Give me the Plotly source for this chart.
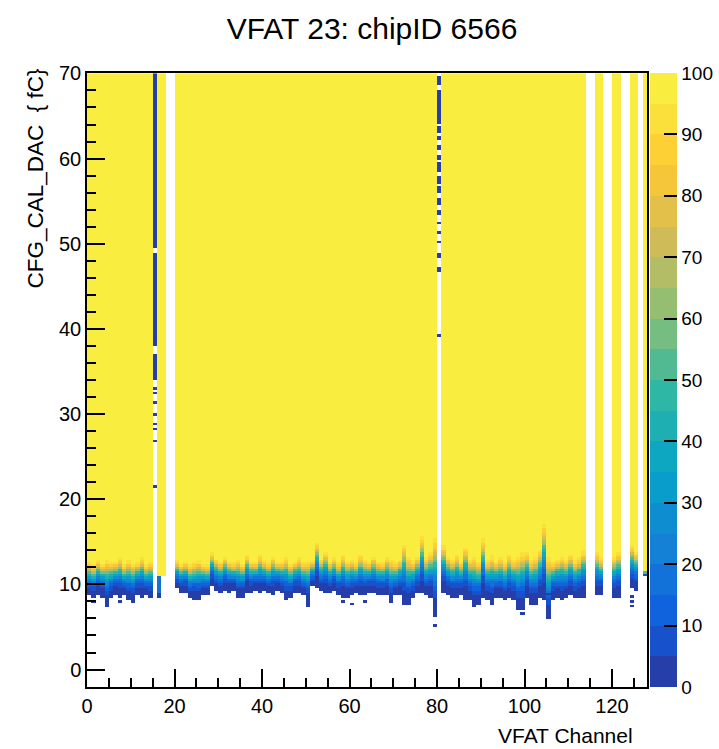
import numpy as np
import plotly.graph_objects as go
from math import erf, sqrt

# ---------------------------------------------------------------
# S-curve scan of VFAT 23 (chipID 6566): hits out of 100 pulses
# per channel versus injected charge CFG_CAL_DAC (fC).
# ---------------------------------------------------------------

n_channels = 128
# calibration-pulse charge bins (256 CAL_DAC steps)
charge_edges = np.linspace(-2.0, 70.0, 257)
charge_centres = 0.5 * (charge_edges[:-1] + charge_edges[1:])

# per channel: lowest charge with any hit, and charge where the curve
# reaches ~90 % efficiency (None marks a channel without a turn-on)
lowest_hit_fc = [
    8.6, 8.4, 8.8, 8.5, 7.4, 8.3, 8.8, 8.5, 8.6, 8.0,
    7.9, 8.7, 8.4, 8.6, 8.4, None, None, None, None, None,
    9.4, 9.0, 9.1, 8.3, 8.2, 8.0, 8.6, 8.7, 9.8, 9.2,
    9.0, 9.3, 9.1, 9.2, 8.4, 8.5, 9.1, 9.0, 9.3, 8.9,
    9.2, 9.0, 8.8, 9.2, 9.0, 8.2, 8.3, 9.0, 8.9, 8.6,
    7.7, 9.7, 9.6, 9.2, 8.9, 9.0, 9.2, 8.7, 8.5, 8.4,
    8.6, 9.0, 8.8, 8.7, 9.1, 8.9, 8.6, 8.6, 8.7, 7.9,
    8.6, 8.8, 7.6, 7.6, 8.3, 8.9, 8.9, 8.6, 8.5, 6.1,
    None, 8.9, 8.8, 8.5, 8.4, 8.6, 8.3, 8.1, 7.3, 7.6,
    8.5, 8.2, 7.6, 8.4, 8.3, 8.0, 8.4, 8.2, 7.0, 6.9,
    8.5, 7.6, 7.6, 8.3, 8.0, 5.9, 8.2, 8.3, 8.1, 8.4,
    8.6, 8.3, 8.5, 8.4, None, None, 8.6, 8.8, None, None,
    8.3, 8.5, None, None, 9.4, 9.2, None, 10.9,
]
full_eff_fc = [
    12.3, 12.0, 12.6, 12.2, 12.5, 12.3, 12.4, 12.8, 12.1, 12.5,
    12.2, 12.4, 12.9, 12.1, 12.3, None, None, None, None, None,
    12.6, 12.2, 12.4, 12.0, 12.3, 12.5, 12.2, 12.0, 13.5, 12.8,
    12.4, 13.0, 12.5, 12.3, 12.6, 12.2, 13.2, 12.5, 12.4, 13.1,
    12.6, 12.3, 13.0, 12.5, 12.4, 12.9, 12.2, 12.5, 12.8, 12.3,
    12.4, 12.6, 14.6, 12.8, 13.5, 12.4, 12.9, 12.3, 13.2, 12.5,
    12.7, 12.3, 13.1, 12.6, 12.4, 13.0, 12.5, 12.4, 12.9, 12.6,
    12.3, 12.7, 14.3, 12.8, 12.5, 13.0, 15.2, 12.9, 13.4, 14.8,
    None, 14.2, 13.0, 12.6, 13.2, 12.5, 14.0, 12.7, 12.9, 12.4,
    14.9, 12.6, 13.0, 12.5, 12.8, 12.4, 13.1, 12.6, 12.9, 13.3,
    13.5, 12.6, 12.9, 13.8, 16.5, 12.8, 12.4, 12.7, 13.0, 12.6,
    13.2, 12.5, 12.8, 13.6, None, None, 13.5, 12.8, None, None,
    13.0, 13.4, None, None, 14.3, 13.6, None, 11.5,
]

# isolated low-occupancy hits below the turn-on (channel, charge fC)
stray_channel = [1, 4, 7, 21, 36, 50, 58, 60, 63, 79, 86, 92, 99, 104, 105, 124, 124, 124]
stray_charge = [8.1, 7.3, 8.0, 9.7, 10.3, 7.4, 8.0, 7.8, 8.1, 5.3, 8.4, 8.2, 6.6, 8.6, 8.9, 8.5, 7.9, 7.4]
stray_counts = 3

# channel 15: low-occupancy hits at high charge (runs of bins and single bins)
ch15_runs_fc = [(49.4, 70.0), (37.8, 48.8), (34.0, 37.0)]
ch15_single_fc = [33.1, 32.4, 31.2, 30.0, 28.8, 28.1, 26.9, 21.4]
# channel 80: same behaviour, broken into short dashes
ch80_runs_fc = [(68.7, 69.7), (64.2, 68.1), (63.0, 63.8), (62.1, 62.6), (61.0, 61.7),
                (59.9, 60.5), (58.5, 59.5), (57.2, 58.0), (56.0, 56.8), (54.5, 55.4),
                (53.3, 53.9), (52.3, 52.7), (51.1, 51.5), (49.9, 50.3), (48.4, 48.9),
                (46.7, 47.2), (39.0, 39.4)]
dead_counts = 2
# channels 16 and 17: full efficiency down to a sharp edge
ch16_step = [(10.8, 70.0, 100), (9.0, 10.8, 15), (8.3, 9.0, 3)]
ch17_step = [(10.8, 70.0, 100)]

# ROOT "bird" palette (top end slightly warmer), 20 contour levels
bird_stops = [0.0, 0.125, 0.25, 0.375, 0.5, 0.625, 0.75, 0.875, 1.0]
bird_r = [0.2082, 0.0592, 0.0780, 0.0232, 0.1802, 0.5301, 0.8186, 0.9956, 0.9750]
bird_g = [0.1664, 0.3599, 0.5041, 0.6419, 0.7178, 0.7492, 0.7328, 0.7862, 0.9350]
bird_b = [0.5293, 0.8684, 0.8385, 0.7914, 0.6425, 0.4662, 0.3499, 0.1968, 0.2500]
n_contours = 20

colorbar_ticks = list(range(0, 101, 10))
x_ticks = list(range(0, 121, 20))
y_ticks = list(range(0, 71, 10))


def bird(frac):
    r = np.interp(frac, bird_stops, bird_r)
    g = np.interp(frac, bird_stops, bird_g)
    b = np.interp(frac, bird_stops, bird_b)
    return f"rgb({round(r * 255)},{round(g * 255)},{round(b * 255)})"


colorscale = []
for i in range(n_contours):
    c = bird((i + 0.99) / n_contours)
    colorscale.append([i / n_contours, c])
    colorscale.append([(i + 1) / n_contours, c])

# s-curve with a softer low-charge tail: lowest hit at 0.5 %, upper point at 90 %
K_LOW, K_HIGH, TAIL = 2.576, 1.2816, 1.4


def s_curve(q, lo, hi):
    sig_hi = (hi - lo) / (K_LOW * TAIL + K_HIGH)
    sig_lo = TAIL * sig_hi
    mu = lo + K_LOW * sig_lo
    sig = sig_lo if q < mu else sig_hi
    return 100.0 * 0.5 * (1.0 + erf((q - mu) / (sig * sqrt(2.0))))


z = np.full((len(charge_centres), n_channels), np.nan)
for ch in range(n_channels):
    lo, hi = lowest_hit_fc[ch], full_eff_fc[ch]
    if lo is None:
        continue
    for k, q in enumerate(charge_centres):
        v = round(s_curve(q, lo, hi))
        if v > 0:
            z[k, ch] = v


def fill_runs(ch, runs, value):
    for a, b in runs:
        sel = (charge_centres >= a) & (charge_centres <= b)
        z[sel, ch] = value


def fill_single(ch, charges, value):
    for q in charges:
        k = int(np.argmin(np.abs(charge_centres - q)))
        z[k, ch] = value


fill_runs(15, ch15_runs_fc, dead_counts)
fill_single(15, ch15_single_fc, dead_counts)
fill_runs(80, ch80_runs_fc, dead_counts)
for a, b, v in ch16_step:
    fill_runs(16, [(a, b)], v)
for a, b, v in ch17_step:
    fill_runs(17, [(a, b)], v)
for ch, q in zip(stray_channel, stray_charge):
    fill_single(ch, [q], stray_counts)

channel_centres = np.arange(n_channels) + 0.5

PLOT_L, PLOT_R, PLOT_T, PLOT_B = 87, 647, 73, 687
PLOT_W, PLOT_H = PLOT_R - PLOT_L, PLOT_B - PLOT_T

fig = go.Figure(
    go.Heatmap(
        x=channel_centres,
        y=charge_centres,
        z=z,
        zmin=0,
        zmax=100,
        colorscale=colorscale,
        hoverongaps=False,
        colorbar=dict(
            x=1 + 3 / PLOT_W,
            xanchor="left",
            xpad=0,
            y=0.5,
            yanchor="middle",
            len=1.0,
            ypad=0,
            thickness=27,
            outlinewidth=0,
            tickmode="array",
            tickvals=colorbar_ticks,
            ticks="inside",
            ticklen=13,
            tickwidth=1.5,
            tickcolor="black",
            tickfont=dict(family="Liberation Sans", size=19, color="black"),
        ),
    )
)

axis_font = dict(family="Liberation Sans", size=20, color="black")

fig.update_xaxes(
    range=[0, 128],
    tickmode="array",
    tickvals=x_ticks,
    ticks="inside",
    ticklen=18,
    tickwidth=1.5,
    tickcolor="black",
    minor=dict(dtick=5, tick0=0, ticks="inside", ticklen=9, tickwidth=1.5, tickcolor="black"),
    showline=True,
    mirror=True,
    linecolor="black",
    linewidth=1.5,
    showgrid=False,
    zeroline=False,
    tickfont=axis_font,
)
fig.update_yaxes(
    range=[-2.05, 70.05],
    tickmode="array",
    tickvals=y_ticks,
    ticks="inside",
    ticklen=18,
    tickwidth=1.5,
    tickcolor="black",
    minor=dict(dtick=2, tick0=0, ticks="inside", ticklen=9, tickwidth=1.5, tickcolor="black"),
    showline=True,
    mirror=True,
    linecolor="black",
    linewidth=1.5,
    showgrid=False,
    zeroline=False,
    tickfont=axis_font,
)

fig.update_layout(
    width=719,
    height=749,
    margin=dict(l=PLOT_L, r=719 - PLOT_R, t=PLOT_T, b=749 - PLOT_B, autoexpand=False),
    paper_bgcolor="white",
    plot_bgcolor="white",
    font=dict(family="Liberation Sans", color="black"),
    title=dict(
        text="VFAT 23: chipID 6566",
        x=372 / 719,
        xanchor="center",
        y=1 - 28 / 749,
        yanchor="middle",
        font=dict(family="Liberation Sans", size=30, color="black"),
    ),
    annotations=[
        dict(
            text="VFAT Channel",
            xref="paper", yref="paper",
            x=(635 - PLOT_L) / PLOT_W, y=-(735 - PLOT_B) / PLOT_H,
            xanchor="right", yanchor="middle",
            showarrow=False,
            font=dict(family="Liberation Sans", size=21, color="black"),
        ),
        dict(
            text="CFG_CAL_DAC  { fC}",
            xref="paper", yref="paper",
            x=(35 - PLOT_L) / PLOT_W, y=(PLOT_B - 66) / PLOT_H,
            xanchor="center", yanchor="top",
            textangle=-90,
            showarrow=False,
            font=dict(family="Liberation Sans", size=22.5, color="black"),
        ),
    ],
)

fig.write_html("out.html")
